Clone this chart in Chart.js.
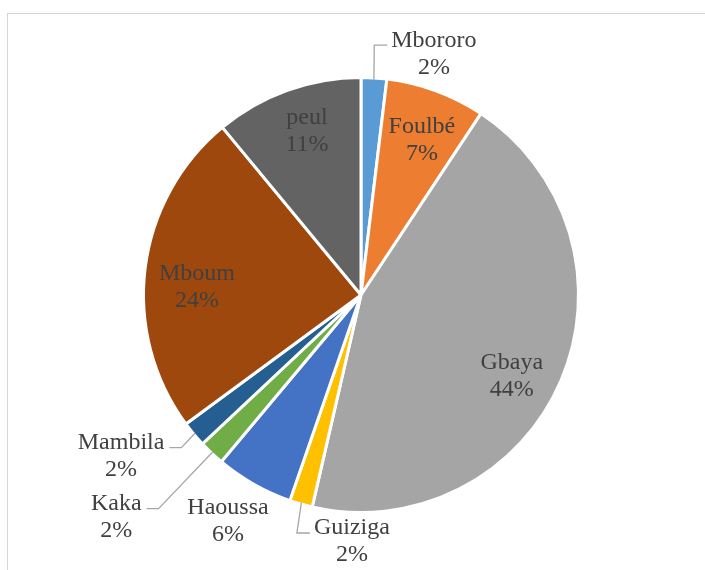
<!DOCTYPE html>
<html lang="fr">
<head>
<meta charset="utf-8">
<title>Ethnies</title>
<script src="https://cdn.jsdelivr.net/npm/chart.js@4/dist/chart.umd.min.js"></script>
<style>
    html, body { margin: 0; padding: 0; background: #fff; }
    .cadre {
        position: absolute; left: 7px; top: 13px; width: 720px; height: 580px;
        border-top: 1px solid #d6d6d6; border-left: 1px solid #d6d6d6;
    }
    #grafico { position: absolute; left: 0; top: 0; }
</style>
</head>
<body>
<div class="cadre"></div>
<canvas id="grafico" width="705" height="570"></canvas>
<script>
const categories = ['Mbororo', 'Foulbé', 'Gbaya', 'Guiziga', 'Haoussa', 'Kaka', 'Mambila', 'Mboum', 'peul'];
const values     = [1.9, 7.4, 44.3, 1.7, 5.8, 1.9, 1.9, 24.1, 11.0];
const colors     = ['#5b9bd5', '#ed7d31', '#a5a5a5', '#ffc000', '#4472c4', '#70ad47', '#255e91', '#9e480e', '#636363'];

// label placement: distance (x radius), angle shift from slice middle (deg), leader line
const labelRadius = [1.167, 0.771, 0.794, 1.142, 1.216, 1.53, 1.338, 0.76, 0.797];
const labelShift  = [13.4, 1.3, 5.2, -13.9, 0.9, 4.4, 5.9, -4.2, 1.5];
const labelLeader = [true, false, false, true, false, true, true, false, false];

const total = values.reduce((a, b) => a + b, 0);

const etiquettes = {
    id: 'etiquettes',
    afterDatasetsDraw(chart) {
        const ctx = chart.ctx;
        const arcs = chart.getDatasetMeta(0).data;
        ctx.save();
        ctx.font = '24px "Liberation Serif", "Times New Roman", serif';
        ctx.textAlign = 'center';
        ctx.textBaseline = 'middle';
        arcs.forEach((arc, i) => {
            const { x, y, startAngle, endAngle, outerRadius } = arc.getProps(['x', 'y', 'startAngle', 'endAngle', 'outerRadius'], true);
            const r = outerRadius - 1.5;
            const mid = (startAngle + endAngle) / 2;
            const ang = mid + labelShift[i] * Math.PI / 180;
            const lx = x + Math.cos(ang) * r * labelRadius[i];
            const ly = y + Math.sin(ang) * r * labelRadius[i];
            const l1 = categories[i];
            const l2 = Math.round(values[i] / total * 100) + '%';
            const y1 = ly - 13.5;

            if (labelLeader[i]) {
                const rx = x + Math.cos(mid) * r;
                const ry = y + Math.sin(mid) * r;
                const w = ctx.measureText(l1).width;
                const hy = y1 + 5;
                let fin, coude;
                if (lx > rx) { fin = lx - w / 2 - 4; coude = fin - 13; }
                else { fin = lx + w / 2 + 5; coude = fin + 12; }
                ctx.strokeStyle = '#a6a6a6';
                ctx.lineWidth = 1.3;
                ctx.beginPath();
                ctx.moveTo(rx, ry);
                ctx.lineTo(coude, hy);
                ctx.lineTo(fin, hy);
                ctx.stroke();
            }

            ctx.fillStyle = '#404040';
            ctx.fillText(l1, lx, y1);
            ctx.fillText(l2, lx, ly + 13.5);
        });
        ctx.restore();
    }
};

new Chart(document.getElementById('grafico').getContext('2d'), {
    type: 'pie',
    data: {
        labels: categories,
        datasets: [{ data: values, backgroundColor: colors, borderColor: '#ffffff', borderWidth: 3 }]
    },
    options: {
        responsive: false,
        animation: false,
        layout: { padding: { left: 142, right: 125, top: 76, bottom: 56 } },
        plugins: { legend: { display: false }, tooltip: { enabled: false } }
    },
    plugins: [etiquettes]
});
</script>
</body>
</html>
